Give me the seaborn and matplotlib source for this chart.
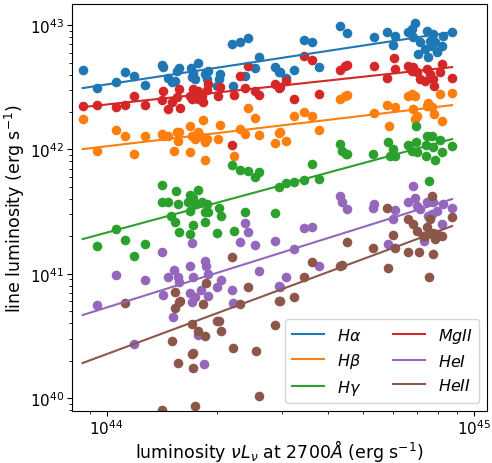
import numpy as np
import pandas as pd
import seaborn as sns
import matplotlib.pyplot as plt
from matplotlib.ticker import NullFormatter

# values are log10 of luminosity
ha_pts = [(43.935, 42.638), (43.974, 42.493), (44.025, 42.541), (44.050, 42.622), (44.074, 42.590),
          (44.104, 42.517), (44.151, 42.678), (44.153, 42.662), (44.167, 42.574), (44.178, 42.541),
          (44.191, 42.630), (44.197, 42.654), (44.186, 42.549), (44.230, 42.654), (44.235, 42.614),
          (44.249, 42.694), (44.240, 42.566), (44.232, 42.582), (44.268, 42.606), (44.276, 42.630),
          (44.273, 42.566), (44.308, 42.606), (44.306, 42.566), (44.300, 42.509), (44.344, 42.509),
          (44.341, 42.847), (44.363, 42.863), (44.385, 42.895), (44.415, 42.743), (44.404, 42.654),
          (44.377, 42.590), (44.458, 42.662), (44.469, 42.622), (44.488, 42.574), (44.472, 42.622),
          (44.510, 42.638), (44.537, 42.879), (44.559, 42.863), (44.578, 42.662), (44.635, 42.992),
          (44.654, 42.936), (44.728, 42.903), (44.763, 42.944), (44.785, 42.912), (44.780, 42.839),
          (44.820, 42.944), (44.831, 42.968), (44.839, 43.016), (44.834, 42.903), (44.872, 42.952),
          (44.880, 42.871), (44.888, 42.928), (44.916, 42.912), (44.940, 42.944), (44.848, 42.767),
          (44.867, 42.807), (44.886, 42.831), (44.899, 42.783), (44.913, 42.831), (44.875, 42.743),
          (44.894, 42.863), (44.853, 42.863)]

hb_pts = [(43.935, 42.244), (43.974, 41.986), (44.025, 42.155), (44.050, 42.107), (44.074, 41.962),
          (44.104, 42.107), (44.151, 42.123), (44.153, 42.107), (44.167, 42.107), (44.183, 41.986),
          (44.191, 42.139), (44.197, 42.139), (44.194, 42.067), (44.227, 42.187), (44.232, 42.107),
          (44.240, 42.083), (44.249, 42.139), (44.259, 42.099), (44.262, 42.236), (44.273, 42.083),
          (44.268, 42.059), (44.227, 41.978), (44.268, 41.914), (44.308, 42.195), (44.303, 42.083),
          (44.347, 41.946), (44.363, 42.163), (44.377, 42.123), (44.385, 42.332), (44.404, 42.252),
          (44.415, 42.115), (44.458, 42.051), (44.469, 42.131), (44.488, 42.067), (44.472, 42.139),
          (44.510, 42.268), (44.537, 42.300), (44.559, 42.268), (44.578, 42.155), (44.635, 42.405),
          (44.649, 42.429), (44.654, 42.437), (44.728, 42.292), (44.763, 42.356), (44.769, 42.187),
          (44.785, 42.340), (44.820, 42.429), (44.831, 42.445), (44.839, 42.429), (44.834, 42.324),
          (44.845, 42.268), (44.872, 42.348), (44.886, 42.340), (44.891, 42.284), (44.908, 42.445),
          (44.940, 42.453), (44.913, 42.228), (44.875, 42.372), (44.839, 42.244)]

hg_pts = [(43.974, 41.222), (44.025, 41.359), (44.050, 41.270), (44.074, 41.142), (44.104, 41.238),
          (44.151, 41.713), (44.151, 41.576), (44.167, 41.576), (44.189, 41.665), (44.194, 41.560),
          (44.175, 41.463), (44.186, 41.415), (44.197, 41.335), (44.227, 41.632), (44.221, 41.576),
          (44.235, 41.608), (44.249, 41.673), (44.240, 41.560), (44.259, 41.576), (44.227, 41.504),
          (44.268, 41.496), (44.276, 41.496), (44.273, 41.560), (44.268, 41.415), (44.235, 41.391),
          (44.227, 41.319), (44.306, 41.528), (44.311, 41.463), (44.300, 41.327), (44.347, 41.343),
          (44.341, 41.874), (44.363, 41.833), (44.385, 41.825), (44.415, 41.817), (44.404, 41.777),
          (44.377, 41.496), (44.458, 41.488), (44.469, 41.697), (44.488, 41.729), (44.510, 41.737),
          (44.537, 41.753), (44.559, 41.882), (44.578, 41.761), (44.635, 42.043), (44.654, 41.962),
          (44.641, 41.986), (44.651, 41.962), (44.725, 41.962), (44.766, 42.059), (44.780, 42.002),
          (44.771, 41.946), (44.785, 41.946), (44.820, 42.035), (44.842, 42.187), (44.842, 42.059),
          (44.831, 41.986), (44.845, 41.978), (44.872, 42.107), (44.886, 42.107), (44.908, 42.075),
          (44.869, 42.035), (44.888, 42.019), (44.913, 41.978), (44.894, 41.914), (44.869, 41.946),
          (44.940, 42.027), (44.878, 41.745)]

mg_pts = [(43.935, 42.348), (43.974, 42.356), (44.025, 42.340), (44.050, 42.356), (44.074, 42.429),
          (44.104, 42.356), (44.153, 42.469), (44.151, 42.397), (44.167, 42.324), (44.178, 42.381),
          (44.191, 42.421), (44.200, 42.332), (44.197, 42.485), (44.227, 42.429), (44.232, 42.405),
          (44.240, 42.445), (44.249, 42.405), (44.259, 42.429), (44.262, 42.381), (44.273, 42.477),
          (44.276, 42.525), (44.249, 42.469), (44.235, 42.485), (44.303, 42.429), (44.308, 42.501),
          (44.347, 42.437), (44.377, 42.493), (44.385, 42.670), (44.363, 42.590), (44.415, 42.437),
          (44.404, 42.469), (44.458, 42.525), (44.469, 42.493), (44.488, 42.549), (44.341, 42.035),
          (44.472, 42.501), (44.510, 42.405), (44.537, 42.751), (44.559, 42.718), (44.578, 42.445),
          (44.635, 42.638), (44.649, 42.670), (44.654, 42.678), (44.728, 42.670), (44.763, 42.574),
          (44.785, 42.646), (44.782, 42.735), (44.820, 42.670), (44.834, 42.662), (44.845, 42.622),
          (44.872, 42.646), (44.880, 42.606), (44.867, 42.549), (44.888, 42.566), (44.891, 42.509),
          (44.913, 42.686), (44.908, 42.622), (44.940, 42.574), (44.831, 42.630), (44.853, 42.566)]

hei_pts = [(43.974, 40.747), (44.025, 40.989), (44.074, 40.434), (44.104, 40.949), (44.151, 41.174),
           (44.153, 40.828), (44.167, 40.973), (44.183, 41.029), (44.194, 40.973), (44.197, 40.932),
           (44.181, 40.651), (44.227, 41.061), (44.235, 40.973), (44.232, 41.246), (44.268, 41.101),
           (44.270, 41.061), (44.276, 40.997), (44.227, 40.844), (44.240, 40.812), (44.257, 40.868),
           (44.276, 40.820), (44.300, 40.892), (44.311, 40.949), (44.232, 40.772), (44.249, 40.506),
           (44.265, 40.273), (44.341, 40.868), (44.344, 40.764), (44.377, 41.407), (44.385, 41.335),
           (44.363, 41.254), (44.404, 41.230), (44.415, 41.021), (44.458, 41.262), (44.469, 40.900),
           (44.488, 40.973), (44.472, 40.892), (44.510, 41.198), (44.537, 41.367), (44.559, 41.375),
           (44.578, 41.061), (44.635, 41.624), (44.641, 41.576), (44.654, 41.520), (44.728, 41.560),
           (44.725, 41.528), (44.766, 41.238), (44.780, 41.439), (44.785, 41.512), (44.820, 41.576),
           (44.834, 41.705), (44.839, 41.608), (44.845, 41.544), (44.853, 41.520), (44.872, 41.576),
           (44.888, 41.576), (44.916, 41.560), (44.899, 41.504), (44.886, 41.480), (44.875, 41.463),
           (44.864, 41.262), (44.913, 41.399), (44.940, 41.528)]

heii_pts = [(44.050, 40.764), (44.186, 40.852), (44.200, 40.780), (44.270, 40.924), (44.341, 41.134),
            (44.385, 40.892), (44.363, 40.755), (44.469, 40.780), (44.262, 40.755), (44.186, 40.723),
            (44.197, 40.772), (44.178, 40.458), (44.232, 40.595), (44.249, 40.538), (44.268, 40.498),
            (44.300, 40.619), (44.306, 40.619), (44.311, 40.538), (44.235, 40.361), (44.232, 40.353),
            (44.194, 40.281), (44.235, 40.241), (44.344, 40.401), (44.406, 40.377), (44.458, 40.587),
            (44.415, 40.015), (44.240, 39.935), (44.151, 39.903), (44.472, 40.780), (44.510, 40.812),
            (44.537, 40.973), (44.559, 41.093), (44.635, 41.061), (44.641, 41.069), (44.654, 41.254),
            (44.725, 41.206), (44.763, 41.528), (44.766, 41.045), (44.780, 41.311), (44.785, 41.206),
            (44.820, 41.174), (44.820, 41.439), (44.834, 41.399), (44.845, 41.343), (44.850, 41.174),
            (44.872, 41.375), (44.886, 41.624), (44.880, 41.439), (44.888, 41.158), (44.878, 40.973),
            (44.867, 41.303), (44.886, 41.319), (44.899, 41.319), (44.913, 41.303), (44.894, 41.278),
            (44.940, 41.455), (44.861, 41.303), (44.888, 41.327)]

# fitted lines: log luminosity at the two ends
fit_logx = [43.935, 44.940]
ha_fit = [42.493, 42.944]
hb_fit = [42.002, 42.356]
hg_fit = [41.278, 42.083]
mg_fit = [42.340, 42.662]
hei_fit = [40.667, 41.600]
heii_fit = [40.281, 41.383]

labels = [r'$H\alpha$', r'$H\beta$', r'$H\gamma$', r'$MgII$', r'$HeI$', r'$HeII$']
colors = ['tab:blue', 'tab:orange', 'tab:green', 'tab:red', 'tab:purple', 'tab:brown']
all_pts = [ha_pts, hb_pts, hg_pts, mg_pts, hei_pts, heii_pts]
all_fits = [ha_fit, hb_fit, hg_fit, mg_fit, hei_fit, heii_fit]

plt.rcParams['font.family'] = ['DejaVu Sans']
plt.rcParams['mathtext.fontset'] = 'dejavusans'

fig = plt.figure(figsize=(4.92, 4.64), dpi=100)
ax = fig.add_axes([0.1463, 0.1121, 0.8435, 0.8772])

for pts, fit, lab, col in zip(all_pts, all_fits, labels, colors):
    df = pd.DataFrame(10 ** np.array(pts), columns=['lum', 'line'])
    sns.scatterplot(data=df, x='lum', y='line', color=col, s=48, linewidth=0, ax=ax)
    fit_df = pd.DataFrame({'lum': 10 ** np.array(fit_logx), 'line': 10 ** np.array(fit)})
    sns.lineplot(data=fit_df, x='lum', y='line', color=col, linewidth=1.5, label=lab, ax=ax)

ax.set_xscale('log')
ax.set_yscale('log')
ax.set_xlim(10 ** 43.906, 10 ** 45.035)
ax.set_ylim(10 ** 39.895, 10 ** 43.17)
ax.xaxis.set_minor_formatter(NullFormatter())
ax.yaxis.set_minor_formatter(NullFormatter())
ax.tick_params(labelsize=11, pad=2)

ax.set_xlabel(r'luminosity $\nu L_\nu$ at 2700$\mathit{\AA}$ (erg s$^{-1}$)', fontsize=12.5, labelpad=0)
ax.set_ylabel(r'line luminosity (erg s$^{-1}$)', fontsize=12.5, labelpad=2)
ax.legend(ncol=2, loc='lower right', fontsize=11.5, columnspacing=2.0)

fig.savefig('out.png', dpi=100)
